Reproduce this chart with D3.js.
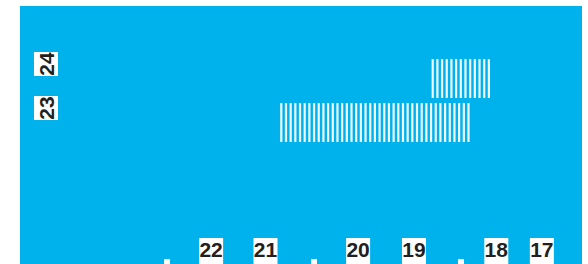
<!DOCTYPE html>
<html>
<head>
<meta charset="utf-8">
<script src="https://cdn.jsdelivr.net/npm/d3@7"></script>
<style>
  html, body { margin: 0; padding: 0; background: #fff; }
  svg { display: block; }
</style>
</head>
<body>
<div id="chart"></div>
<script>
// rows (top to bottom) and their hatched spans, in axis units
const rows = ["24", "23"];
const spanStart = [2.80, 1.77];
const spanEnd = [3.19, 3.06];

// bottom labels and where they sit on the axis
const bottomLabels = ["22", "21", "20", "19", "18", "17"];
const bottomPos = [1.30, 1.67, 2.30, 2.68, 3.24, 3.55];
const tickValues = [1, 2, 3];

const width = 588, height = 264;
const bg = "#00b2eb";
const ink = "#231f20";

const svg = d3.select("#chart").append("svg")
  .attr("width", width)
  .attr("height", height);

const panel = { left: 20, top: 6, right: 582, bottom: 264 };

svg.append("rect")
  .attr("x", panel.left)
  .attr("y", panel.top)
  .attr("width", panel.right - panel.left)
  .attr("height", panel.bottom - panel.top)
  .attr("fill", bg);

const x = d3.scaleLinear()
  .domain([0, 3.823])
  .range([panel.left, panel.right]);

const y = d3.scaleBand()
  .domain(rows)
  .range([59, 142])
  .paddingInner(0.114)
  .paddingOuter(0);

// hatched bars, drawn as thin vertical stripes
const pitch = 4.68, stripeW = 2.2;
rows.forEach((r, i) => {
  const x0 = x(spanStart[i]), x1 = x(spanEnd[i]);
  const g = svg.append("g").attr("class", "bar");
  g.selectAll("rect")
    .data(d3.range(x0, x1 - stripeW + 1.5, pitch))
    .enter()
    .append("rect")
    .attr("x", d => d)
    .attr("y", y(r))
    .attr("width", stripeW)
    .attr("height", y.bandwidth())
    .attr("fill", "#eefaff");
});

// row labels, rotated on white tags
const rowLab = svg.append("g").selectAll("g")
  .data(rows)
  .enter()
  .append("g")
  .attr("transform", d => `translate(46,${y(d) + 5})`);
rowLab.append("rect")
  .attr("x", -12).attr("y", -12)
  .attr("width", 24).attr("height", 24)
  .attr("fill", "#fff");
rowLab.append("text")
  .attr("transform", "rotate(-90)")
  .attr("text-anchor", "middle")
  .attr("dy", "0.37em")
  .attr("font-family", "Liberation Sans, Arial, sans-serif")
  .attr("font-weight", "bold")
  .attr("font-size", 21)
  .attr("fill", ink)
  .text(d => d);

// bottom labels
const botLab = svg.append("g").selectAll("g")
  .data(bottomLabels)
  .enter()
  .append("g")
  .attr("transform", (d, i) => `translate(${x(bottomPos[i])},238)`);
botLab.append("rect")
  .attr("x", -12).attr("y", 0)
  .attr("width", 24).attr("height", 30)
  .attr("fill", "#fff");
botLab.append("text")
  .attr("text-anchor", "middle")
  .attr("y", 19)
  .attr("font-family", "Liberation Sans, Arial, sans-serif")
  .attr("font-weight", "bold")
  .attr("font-size", 21)
  .attr("fill", ink)
  .text(d => d);

// small white tick marks along the bottom edge
svg.append("g").selectAll("rect")
  .data(tickValues)
  .enter()
  .append("rect")
  .attr("x", d => x(d) - 3)
  .attr("y", 259)
  .attr("width", 6)
  .attr("height", 5)
  .attr("fill", "#fff");
</script>
</body>
</html>
